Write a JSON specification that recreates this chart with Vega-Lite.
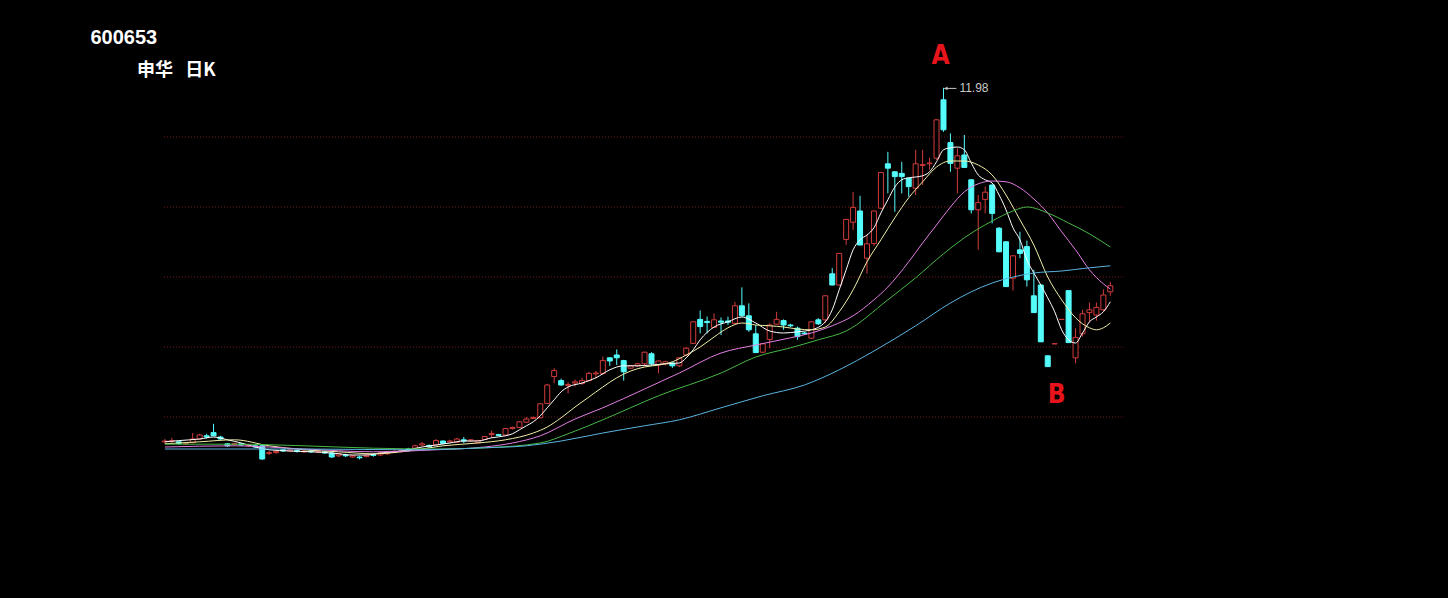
{
  "$schema": "https://vega.github.io/schema/vega-lite/v6.json",
  "width": 1448,
  "height": 598,
  "autosize": {"type": "none"},
  "padding": 0,
  "background": "#000000",
  "config": {"view": {"stroke": null}},
  "datasets": {
    "k": [
{"i":0,"o":3.13,"h":3.20,"l":3.08,"c":3.15},
{"i":1,"o":3.14,"h":3.23,"l":3.10,"c":3.16},
{"i":2,"o":3.13,"h":3.15,"l":3.06,"c":3.09},
{"i":3,"o":3.08,"h":3.11,"l":3.05,"c":3.09},
{"i":4,"o":3.11,"h":3.35,"l":3.09,"c":3.20},
{"i":5,"o":3.20,"h":3.33,"l":3.18,"c":3.30},
{"i":6,"o":3.28,"h":3.33,"l":3.21,"c":3.25},
{"i":7,"o":3.36,"h":3.58,"l":3.27,"c":3.28},
{"i":8,"o":3.25,"h":3.28,"l":3.18,"c":3.20},
{"i":9,"o":3.08,"h":3.10,"l":3.00,"c":3.03},
{"i":10,"o":3.06,"h":3.11,"l":3.04,"c":3.09},
{"i":11,"o":3.08,"h":3.10,"l":3.03,"c":3.05},
{"i":12,"o":3.03,"h":3.08,"l":3.00,"c":3.05},
{"i":13,"o":3.03,"h":3.05,"l":2.98,"c":3.00},
{"i":14,"o":3.03,"h":3.05,"l":2.68,"c":2.70},
{"i":15,"o":2.84,"h":2.90,"l":2.80,"c":2.86},
{"i":16,"o":2.86,"h":2.93,"l":2.83,"c":2.89},
{"i":17,"o":2.93,"h":2.95,"l":2.88,"c":2.90},
{"i":18,"o":2.90,"h":2.95,"l":2.88,"c":2.93},
{"i":19,"o":2.91,"h":2.94,"l":2.86,"c":2.89},
{"i":20,"o":2.88,"h":2.93,"l":2.85,"c":2.90},
{"i":21,"o":2.90,"h":2.93,"l":2.85,"c":2.88},
{"i":22,"o":2.88,"h":2.93,"l":2.85,"c":2.90},
{"i":23,"o":2.88,"h":2.90,"l":2.83,"c":2.85},
{"i":24,"o":2.85,"h":2.88,"l":2.73,"c":2.75},
{"i":25,"o":2.78,"h":2.85,"l":2.75,"c":2.83},
{"i":26,"o":2.80,"h":2.83,"l":2.75,"c":2.78},
{"i":27,"o":2.75,"h":2.80,"l":2.73,"c":2.78},
{"i":28,"o":2.75,"h":2.78,"l":2.69,"c":2.73},
{"i":29,"o":2.76,"h":2.83,"l":2.74,"c":2.80},
{"i":30,"o":2.81,"h":2.84,"l":2.76,"c":2.79},
{"i":31,"o":2.80,"h":2.88,"l":2.78,"c":2.85},
{"i":32,"o":2.83,"h":2.90,"l":2.80,"c":2.88},
{"i":33,"o":2.86,"h":2.93,"l":2.85,"c":2.89},
{"i":34,"o":2.89,"h":2.94,"l":2.86,"c":2.91},
{"i":35,"o":2.95,"h":2.98,"l":2.89,"c":2.91},
{"i":36,"o":2.97,"h":3.06,"l":2.95,"c":3.03},
{"i":37,"o":3.05,"h":3.13,"l":3.03,"c":3.08},
{"i":38,"o":3.04,"h":3.06,"l":2.99,"c":3.01},
{"i":39,"o":3.05,"h":3.20,"l":3.04,"c":3.16},
{"i":40,"o":3.15,"h":3.16,"l":3.08,"c":3.09},
{"i":41,"o":3.13,"h":3.18,"l":3.10,"c":3.15},
{"i":42,"o":3.12,"h":3.23,"l":3.10,"c":3.20},
{"i":43,"o":3.18,"h":3.25,"l":3.10,"c":3.15},
{"i":44,"o":3.15,"h":3.20,"l":3.13,"c":3.18},
{"i":45,"o":3.11,"h":3.18,"l":3.09,"c":3.16},
{"i":46,"o":3.19,"h":3.28,"l":3.18,"c":3.26},
{"i":47,"o":3.31,"h":3.41,"l":3.23,"c":3.34},
{"i":48,"o":3.31,"h":3.33,"l":3.28,"c":3.29},
{"i":49,"o":3.30,"h":3.48,"l":3.28,"c":3.46},
{"i":50,"o":3.46,"h":3.51,"l":3.44,"c":3.49},
{"i":51,"o":3.49,"h":3.65,"l":3.48,"c":3.63},
{"i":52,"o":3.62,"h":3.75,"l":3.60,"c":3.70},
{"i":53,"o":3.71,"h":3.76,"l":3.70,"c":3.74},
{"i":54,"o":3.73,"h":4.10,"l":3.72,"c":4.08},
{"i":55,"o":4.09,"h":4.58,"l":4.08,"c":4.55},
{"i":56,"o":4.76,"h":4.97,"l":4.59,"c":4.91},
{"i":57,"o":4.66,"h":4.71,"l":4.53,"c":4.55},
{"i":58,"o":4.54,"h":4.62,"l":4.34,"c":4.56},
{"i":59,"o":4.60,"h":4.69,"l":4.51,"c":4.63},
{"i":60,"o":4.59,"h":4.73,"l":4.55,"c":4.66},
{"i":61,"o":4.66,"h":4.88,"l":4.65,"c":4.84},
{"i":62,"o":4.83,"h":4.90,"l":4.71,"c":4.85},
{"i":63,"o":4.84,"h":5.26,"l":4.80,"c":5.16},
{"i":64,"o":5.23,"h":5.24,"l":5.03,"c":5.15},
{"i":65,"o":5.30,"h":5.44,"l":5.05,"c":5.23},
{"i":66,"o":5.16,"h":5.18,"l":4.66,"c":4.88},
{"i":67,"o":4.97,"h":5.05,"l":4.95,"c":5.03},
{"i":68,"o":5.03,"h":5.10,"l":5.00,"c":5.08},
{"i":69,"o":5.08,"h":5.38,"l":5.01,"c":5.37},
{"i":70,"o":5.33,"h":5.37,"l":5.03,"c":5.08},
{"i":71,"o":5.05,"h":5.16,"l":4.84,"c":5.15},
{"i":72,"o":5.08,"h":5.16,"l":5.04,"c":5.13},
{"i":73,"o":5.10,"h":5.13,"l":4.98,"c":5.03},
{"i":74,"o":5.03,"h":5.25,"l":5.00,"c":5.23},
{"i":75,"o":5.30,"h":5.50,"l":5.28,"c":5.47},
{"i":76,"o":5.59,"h":6.15,"l":5.58,"c":6.13},
{"i":77,"o":6.19,"h":6.41,"l":5.84,"c":6.01},
{"i":78,"o":6.14,"h":6.26,"l":5.84,"c":6.11},
{"i":79,"o":5.99,"h":6.34,"l":5.97,"c":6.18},
{"i":80,"o":6.15,"h":6.24,"l":5.80,"c":6.12},
{"i":81,"o":6.15,"h":6.26,"l":6.05,"c":6.12},
{"i":82,"o":6.09,"h":6.63,"l":6.08,"c":6.53},
{"i":83,"o":6.53,"h":6.99,"l":6.26,"c":6.28},
{"i":84,"o":6.28,"h":6.59,"l":5.88,"c":5.93},
{"i":85,"o":5.83,"h":6.05,"l":5.35,"c":5.36},
{"i":86,"o":5.37,"h":5.59,"l":5.36,"c":5.58},
{"i":87,"o":5.69,"h":6.09,"l":5.47,"c":6.05},
{"i":88,"o":6.07,"h":6.38,"l":6.05,"c":6.19},
{"i":89,"o":6.16,"h":6.19,"l":5.93,"c":6.05},
{"i":90,"o":6.05,"h":6.08,"l":6.00,"c":6.03},
{"i":91,"o":5.97,"h":6.01,"l":5.68,"c":5.76},
{"i":92,"o":5.85,"h":5.88,"l":5.80,"c":5.83},
{"i":93,"o":5.72,"h":6.15,"l":5.70,"c":6.13},
{"i":94,"o":6.18,"h":6.22,"l":6.05,"c":6.08},
{"i":95,"o":6.18,"h":6.79,"l":6.09,"c":6.78},
{"i":96,"o":7.33,"h":7.47,"l":7.04,"c":7.05},
{"i":97,"o":7.05,"h":7.85,"l":7.03,"c":7.84},
{"i":98,"o":8.19,"h":8.70,"l":8.05,"c":8.69},
{"i":99,"o":8.62,"h":9.38,"l":8.43,"c":8.99},
{"i":100,"o":8.90,"h":9.28,"l":8.04,"c":8.05},
{"i":101,"o":7.72,"h":8.30,"l":7.34,"c":8.08},
{"i":102,"o":8.09,"h":8.91,"l":8.03,"c":8.90},
{"i":103,"o":8.97,"h":9.88,"l":8.95,"c":9.86},
{"i":104,"o":10.08,"h":10.38,"l":9.34,"c":9.97},
{"i":105,"o":9.88,"h":9.90,"l":8.88,"c":9.76},
{"i":106,"o":9.84,"h":10.13,"l":9.34,"c":9.76},
{"i":107,"o":9.72,"h":9.73,"l":9.26,"c":9.51},
{"i":108,"o":9.47,"h":10.43,"l":9.30,"c":10.08},
{"i":109,"o":10.04,"h":10.43,"l":9.55,"c":10.06},
{"i":110,"o":10.08,"h":10.23,"l":9.93,"c":10.10},
{"i":111,"o":10.22,"h":11.19,"l":10.18,"c":11.18},
{"i":112,"o":11.68,"h":11.98,"l":10.88,"c":10.93},
{"i":113,"o":10.61,"h":10.84,"l":9.88,"c":10.09},
{"i":114,"o":9.97,"h":10.47,"l":9.34,"c":10.28},
{"i":115,"o":10.30,"h":10.80,"l":9.98,"c":9.99},
{"i":116,"o":9.68,"h":9.70,"l":8.84,"c":8.93},
{"i":117,"o":8.93,"h":9.30,"l":7.93,"c":9.11},
{"i":118,"o":9.19,"h":9.51,"l":8.84,"c":9.37},
{"i":119,"o":9.55,"h":9.56,"l":8.59,"c":8.84},
{"i":120,"o":8.47,"h":8.50,"l":7.87,"c":7.88},
{"i":121,"o":8.13,"h":8.15,"l":7.00,"c":7.01},
{"i":122,"o":7.22,"h":7.79,"l":6.91,"c":7.78},
{"i":123,"o":7.93,"h":8.38,"l":7.72,"c":7.84},
{"i":124,"o":8.01,"h":8.16,"l":7.01,"c":7.18},
{"i":125,"o":6.78,"h":7.43,"l":6.35,"c":6.36},
{"i":126,"o":7.05,"h":7.06,"l":5.62,"c":5.63},
{"i":127,"o":5.28,"h":5.29,"l":5.00,"c":5.01},
{"i":128,"o":5.58,"h":5.58,"l":5.58,"c":5.58},
{"i":129,"o":6.19,"h":6.19,"l":6.19,"c":6.19},
{"i":130,"o":6.91,"h":6.91,"l":5.60,"c":5.61},
{"i":131,"o":5.23,"h":5.97,"l":5.09,"c":5.74},
{"i":132,"o":5.83,"h":6.43,"l":5.76,"c":6.33},
{"i":133,"o":6.36,"h":6.61,"l":6.13,"c":6.43},
{"i":134,"o":6.30,"h":6.61,"l":6.16,"c":6.49},
{"i":135,"o":6.43,"h":6.94,"l":6.40,"c":6.80},
{"i":136,"o":6.88,"h":7.13,"l":6.78,"c":7.03}
    ],
    "ma": [
{"ma":"MA5","i":0,"v":3.13},{"ma":"MA5","i":2,"v":3.16},{"ma":"MA5","i":5,"v":3.20},{"ma":"MA5","i":7,"v":3.25},{"ma":"MA5","i":9,"v":3.18},{"ma":"MA5","i":11,"v":3.10},{"ma":"MA5","i":13,"v":3.00},{"ma":"MA5","i":15,"v":2.93},{"ma":"MA5","i":18,"v":2.90},{"ma":"MA5","i":21,"v":2.88},{"ma":"MA5","i":24,"v":2.85},{"ma":"MA5","i":27,"v":2.80},{"ma":"MA5","i":29,"v":2.80},{"ma":"MA5","i":31,"v":2.85},{"ma":"MA5","i":33,"v":2.88},{"ma":"MA5","i":35,"v":2.93},{"ma":"MA5","i":37,"v":3.00},{"ma":"MA5","i":39,"v":3.05},{"ma":"MA5","i":41,"v":3.10},{"ma":"MA5","i":43,"v":3.15},{"ma":"MA5","i":45,"v":3.15},{"ma":"MA5","i":47,"v":3.23},{"ma":"MA5","i":49,"v":3.28},{"ma":"MA5","i":50,"v":3.33},{"ma":"MA5","i":51,"v":3.43},{"ma":"MA5","i":52,"v":3.53},{"ma":"MA5","i":53,"v":3.63},{"ma":"MA5","i":54,"v":3.78},{"ma":"MA5","i":55,"v":3.98},{"ma":"MA5","i":56,"v":4.18},{"ma":"MA5","i":57,"v":4.38},{"ma":"MA5","i":58,"v":4.50},{"ma":"MA5","i":60,"v":4.60},{"ma":"MA5","i":62,"v":4.73},{"ma":"MA5","i":64,"v":4.93},{"ma":"MA5","i":66,"v":5.03},{"ma":"MA5","i":68,"v":5.03},{"ma":"MA5","i":70,"v":5.05},{"ma":"MA5","i":72,"v":5.08},{"ma":"MA5","i":74,"v":5.10},{"ma":"MA5","i":75,"v":5.23},{"ma":"MA5","i":76,"v":5.43},{"ma":"MA5","i":77,"v":5.68},{"ma":"MA5","i":79,"v":6.00},{"ma":"MA5","i":81,"v":6.13},{"ma":"MA5","i":83,"v":6.25},{"ma":"MA5","i":85,"v":6.10},{"ma":"MA5","i":87,"v":5.90},{"ma":"MA5","i":89,"v":5.85},{"ma":"MA5","i":91,"v":5.88},{"ma":"MA5","i":93,"v":5.93},{"ma":"MA5","i":95,"v":6.13},{"ma":"MA5","i":96,"v":6.43},{"ma":"MA5","i":97,"v":6.93},{"ma":"MA5","i":98,"v":7.43},{"ma":"MA5","i":99,"v":7.93},{"ma":"MA5","i":100,"v":8.18},{"ma":"MA5","i":101,"v":8.30},{"ma":"MA5","i":102,"v":8.48},{"ma":"MA5","i":103,"v":8.85},{"ma":"MA5","i":104,"v":9.18},{"ma":"MA5","i":105,"v":9.50},{"ma":"MA5","i":106,"v":9.68},{"ma":"MA5","i":107,"v":9.73},{"ma":"MA5","i":108,"v":9.75},{"ma":"MA5","i":109,"v":9.78},{"ma":"MA5","i":110,"v":9.88},{"ma":"MA5","i":111,"v":10.13},{"ma":"MA5","i":112,"v":10.43},{"ma":"MA5","i":113,"v":10.48},{"ma":"MA5","i":114,"v":10.50},{"ma":"MA5","i":115,"v":10.43},{"ma":"MA5","i":116,"v":10.10},{"ma":"MA5","i":117,"v":9.80},{"ma":"MA5","i":118,"v":9.68},{"ma":"MA5","i":119,"v":9.60},{"ma":"MA5","i":120,"v":9.30},{"ma":"MA5","i":121,"v":8.93},{"ma":"MA5","i":122,"v":8.48},{"ma":"MA5","i":123,"v":8.18},{"ma":"MA5","i":124,"v":7.68},{"ma":"MA5","i":125,"v":7.35},{"ma":"MA5","i":126,"v":7.05},{"ma":"MA5","i":127,"v":6.73},{"ma":"MA5","i":128,"v":6.38},{"ma":"MA5","i":129,"v":5.93},{"ma":"MA5","i":130,"v":5.68},{"ma":"MA5","i":131,"v":5.60},{"ma":"MA5","i":132,"v":5.85},{"ma":"MA5","i":133,"v":6.13},{"ma":"MA5","i":134,"v":6.25},{"ma":"MA5","i":135,"v":6.38},{"ma":"MA5","i":136,"v":6.63},
{"ma":"MA10","i":0,"v":3.08},{"ma":"MA10","i":5,"v":3.13},{"ma":"MA10","i":10,"v":3.18},{"ma":"MA10","i":15,"v":3.03},{"ma":"MA10","i":20,"v":2.93},{"ma":"MA10","i":25,"v":2.88},{"ma":"MA10","i":30,"v":2.83},{"ma":"MA10","i":35,"v":2.90},{"ma":"MA10","i":40,"v":3.03},{"ma":"MA10","i":45,"v":3.10},{"ma":"MA10","i":49,"v":3.18},{"ma":"MA10","i":53,"v":3.35},{"ma":"MA10","i":55,"v":3.50},{"ma":"MA10","i":57,"v":3.73},{"ma":"MA10","i":59,"v":4.00},{"ma":"MA10","i":61,"v":4.25},{"ma":"MA10","i":63,"v":4.50},{"ma":"MA10","i":65,"v":4.73},{"ma":"MA10","i":67,"v":4.90},{"ma":"MA10","i":69,"v":5.00},{"ma":"MA10","i":71,"v":5.05},{"ma":"MA10","i":73,"v":5.13},{"ma":"MA10","i":75,"v":5.30},{"ma":"MA10","i":77,"v":5.50},{"ma":"MA10","i":79,"v":5.75},{"ma":"MA10","i":81,"v":5.98},{"ma":"MA10","i":83,"v":6.10},{"ma":"MA10","i":85,"v":6.05},{"ma":"MA10","i":87,"v":6.03},{"ma":"MA10","i":89,"v":6.00},{"ma":"MA10","i":91,"v":5.95},{"ma":"MA10","i":93,"v":5.93},{"ma":"MA10","i":95,"v":6.00},{"ma":"MA10","i":97,"v":6.38},{"ma":"MA10","i":99,"v":6.93},{"ma":"MA10","i":101,"v":7.63},{"ma":"MA10","i":103,"v":8.18},{"ma":"MA10","i":105,"v":8.73},{"ma":"MA10","i":107,"v":9.23},{"ma":"MA10","i":109,"v":9.63},{"ma":"MA10","i":111,"v":10.00},{"ma":"MA10","i":113,"v":10.15},{"ma":"MA10","i":115,"v":10.15},{"ma":"MA10","i":117,"v":10.05},{"ma":"MA10","i":119,"v":9.80},{"ma":"MA10","i":121,"v":9.30},{"ma":"MA10","i":123,"v":8.68},{"ma":"MA10","i":125,"v":8.05},{"ma":"MA10","i":127,"v":7.25},{"ma":"MA10","i":129,"v":6.68},{"ma":"MA10","i":131,"v":6.23},{"ma":"MA10","i":133,"v":5.98},{"ma":"MA10","i":134,"v":5.93},{"ma":"MA10","i":135,"v":5.98},{"ma":"MA10","i":136,"v":6.10},
{"ma":"MA20","i":0,"v":3.00},{"ma":"MA20","i":10,"v":3.03},{"ma":"MA20","i":20,"v":2.95},{"ma":"MA20","i":30,"v":2.88},{"ma":"MA20","i":39,"v":2.93},{"ma":"MA20","i":46,"v":3.00},{"ma":"MA20","i":50,"v":3.10},{"ma":"MA20","i":54,"v":3.28},{"ma":"MA20","i":59,"v":3.70},{"ma":"MA20","i":63,"v":3.98},{"ma":"MA20","i":69,"v":4.45},{"ma":"MA20","i":74,"v":4.85},{"ma":"MA20","i":80,"v":5.35},{"ma":"MA20","i":85,"v":5.55},{"ma":"MA20","i":90,"v":5.73},{"ma":"MA20","i":93,"v":5.85},{"ma":"MA20","i":96,"v":6.03},{"ma":"MA20","i":99,"v":6.28},{"ma":"MA20","i":102,"v":6.68},{"ma":"MA20","i":104,"v":7.00},{"ma":"MA20","i":107,"v":7.63},{"ma":"MA20","i":109,"v":8.10},{"ma":"MA20","i":111,"v":8.55},{"ma":"MA20","i":113,"v":9.00},{"ma":"MA20","i":115,"v":9.38},{"ma":"MA20","i":117,"v":9.58},{"ma":"MA20","i":119,"v":9.65},{"ma":"MA20","i":121,"v":9.63},{"ma":"MA20","i":123,"v":9.48},{"ma":"MA20","i":125,"v":9.20},{"ma":"MA20","i":127,"v":8.85},{"ma":"MA20","i":129,"v":8.38},{"ma":"MA20","i":131,"v":7.93},{"ma":"MA20","i":133,"v":7.43},{"ma":"MA20","i":135,"v":7.08},{"ma":"MA20","i":136,"v":6.95},
{"ma":"MA30","i":0,"v":3.07},{"ma":"MA30","i":10,"v":3.07},{"ma":"MA30","i":20,"v":3.03},{"ma":"MA30","i":30,"v":2.97},{"ma":"MA30","i":39,"v":2.95},{"ma":"MA30","i":46,"v":2.98},{"ma":"MA30","i":54,"v":3.10},{"ma":"MA30","i":58,"v":3.33},{"ma":"MA30","i":63,"v":3.68},{"ma":"MA30","i":71,"v":4.28},{"ma":"MA30","i":80,"v":4.85},{"ma":"MA30","i":85,"v":5.25},{"ma":"MA30","i":90,"v":5.48},{"ma":"MA30","i":94,"v":5.68},{"ma":"MA30","i":98,"v":5.90},{"ma":"MA30","i":104,"v":6.68},{"ma":"MA30","i":108,"v":7.23},{"ma":"MA30","i":112,"v":7.83},{"ma":"MA30","i":115,"v":8.23},{"ma":"MA30","i":119,"v":8.65},{"ma":"MA30","i":122,"v":8.90},{"ma":"MA30","i":124,"v":9.00},{"ma":"MA30","i":127,"v":8.85},{"ma":"MA30","i":130,"v":8.60},{"ma":"MA30","i":133,"v":8.33},{"ma":"MA30","i":136,"v":8.00},
{"ma":"MA60","i":0,"v":2.95},{"ma":"MA60","i":20,"v":2.95},{"ma":"MA60","i":35,"v":2.93},{"ma":"MA60","i":46,"v":2.98},{"ma":"MA60","i":52,"v":3.03},{"ma":"MA60","i":57,"v":3.15},{"ma":"MA60","i":63,"v":3.35},{"ma":"MA60","i":69,"v":3.53},{"ma":"MA60","i":74,"v":3.68},{"ma":"MA60","i":80,"v":3.98},{"ma":"MA60","i":86,"v":4.28},{"ma":"MA60","i":92,"v":4.55},{"ma":"MA60","i":97,"v":4.93},{"ma":"MA60","i":102,"v":5.40},{"ma":"MA60","i":108,"v":6.03},{"ma":"MA60","i":113,"v":6.60},{"ma":"MA60","i":116,"v":6.88},{"ma":"MA60","i":119,"v":7.10},{"ma":"MA60","i":122,"v":7.25},{"ma":"MA60","i":125,"v":7.35},{"ma":"MA60","i":129,"v":7.40},{"ma":"MA60","i":133,"v":7.48},{"ma":"MA60","i":136,"v":7.53}
    ],
    "grid": [{"g":10.75},{"g":9.0},{"g":7.25},{"g":5.5},{"g":3.75}]
  },
  "layer": [
    {
      "data": {"name": "grid"},
      "mark": {"type": "rule", "color": "#7a1c1c", "strokeDash": [1, 2], "strokeWidth": 1},
      "encoding": {
        "x": {"datum": -0.14, "type": "quantitative", "scale": {"domain": [-23, 183.857], "nice": false, "zero": false}, "axis": null},
        "x2": {"datum": 138},
        "y": {"field": "g", "type": "quantitative", "scale": {"domain": [-0.775, 14.175], "nice": false, "zero": false}, "axis": null}
      }
    },
    {
      "data": {"name": "k"},
      "mark": {"type": "rule", "strokeWidth": 1},
      "encoding": {
        "x": {"field": "i", "type": "quantitative", "scale": {"domain": [-23, 183.857], "nice": false, "zero": false}, "axis": null},
        "y": {"field": "l", "type": "quantitative", "scale": {"domain": [-0.775, 14.175], "nice": false, "zero": false}, "axis": null},
        "y2": {"field": "h"},
        "color": {"condition": {"test": "datum.c < datum.o", "value": "#54fcfc"}, "value": "#d23c3c"}
      }
    },
    {
      "data": {"name": "k"},
      "mark": {"type": "bar", "width": 5, "strokeWidth": 1},
      "encoding": {
        "x": {"field": "i", "type": "quantitative", "scale": {"domain": [-23, 183.857], "nice": false, "zero": false}, "axis": null},
        "y": {"field": "o", "type": "quantitative", "scale": {"domain": [-0.775, 14.175], "nice": false, "zero": false}, "axis": null},
        "y2": {"field": "c"},
        "fill": {"condition": {"test": "datum.c < datum.o", "value": "#54fcfc"}, "value": "#000000"},
        "stroke": {"condition": {"test": "datum.c < datum.o", "value": "#54fcfc"}, "value": "#d23c3c"}
      }
    },
    {
      "data": {"name": "ma"},
      "mark": {"type": "line", "strokeWidth": 1, "interpolate": "monotone"},
      "encoding": {
        "x": {"field": "i", "type": "quantitative", "scale": {"domain": [-23, 183.857], "nice": false, "zero": false}, "axis": null},
        "y": {"field": "v", "type": "quantitative", "scale": {"domain": [-0.775, 14.175], "nice": false, "zero": false}, "axis": null},
        "color": {"field": "ma", "type": "nominal", "scale": {"domain": ["MA5", "MA10", "MA20", "MA30", "MA60"], "range": ["#ffffff", "#f2f0a8", "#e27ee2", "#46b846", "#5ab4e0"]}, "legend": null}
      }
    },
    {
      "data": {"values": [{"t": "A", "i": 111.57, "p": 12.775}, {"t": "B", "i": 128.29, "p": 4.30}]},
      "mark": {"type": "text", "color": "#e8141c", "fontSize": 26, "fontWeight": "bold", "font": "Liberation Sans Narrow, DejaVu Sans Condensed, Liberation Sans, sans-serif", "align": "center", "baseline": "middle"},
      "encoding": {
        "x": {"field": "i", "type": "quantitative"},
        "y": {"field": "p", "type": "quantitative"},
        "text": {"field": "t"}
      }
    },
    {
      "data": {"values": [{"t": "600653", "i": -10.71, "p": 13.225}]},
      "mark": {"type": "text", "color": "#ffffff", "fontSize": 20, "fontWeight": "bold", "font": "Liberation Sans, sans-serif", "align": "left", "baseline": "middle"},
      "encoding": {
        "x": {"field": "i", "type": "quantitative"},
        "y": {"field": "p", "type": "quantitative"},
        "text": {"field": "t"}
      }
    },
    {
      "data": {"values": [{"t": "申华\u00a0\u00a0\u00a0日K", "i": -4.0, "p": 12.41}]},
      "mark": {"type": "text", "color": "#ffffff", "fontSize": 18, "fontWeight": "bold", "font": "Noto Sans CJK SC, sans-serif", "align": "left", "baseline": "middle"},
      "encoding": {
        "x": {"field": "i", "type": "quantitative"},
        "y": {"field": "p", "type": "quantitative"},
        "text": {"field": "t"}
      }
    },
    {
      "data": {"values": [{"t": "11.98", "i": 114.29, "p": 11.965}]},
      "mark": {"type": "text", "color": "#c8c8c8", "fontSize": 12, "font": "Liberation Sans, sans-serif", "align": "left", "baseline": "middle"},
      "encoding": {
        "x": {"field": "i", "type": "quantitative"},
        "y": {"field": "p", "type": "quantitative"},
        "text": {"field": "t"}
      }
    },
    {
      "data": {"values": [{"i": 112.1, "i2": 113.86, "p": 11.965}]},
      "mark": {"type": "rule", "color": "#c8c8c8", "strokeWidth": 1},
      "encoding": {
        "x": {"field": "i", "type": "quantitative"},
        "x2": {"field": "i2"},
        "y": {"field": "p", "type": "quantitative"}
      }
    },
    {
      "data": {"values": [{"i": 112.35, "p": 11.965}]},
      "mark": {"type": "point", "shape": "triangle-left", "filled": true, "color": "#c8c8c8", "size": 14, "opacity": 1},
      "encoding": {
        "x": {"field": "i", "type": "quantitative"},
        "y": {"field": "p", "type": "quantitative"}
      }
    }
  ]
}
